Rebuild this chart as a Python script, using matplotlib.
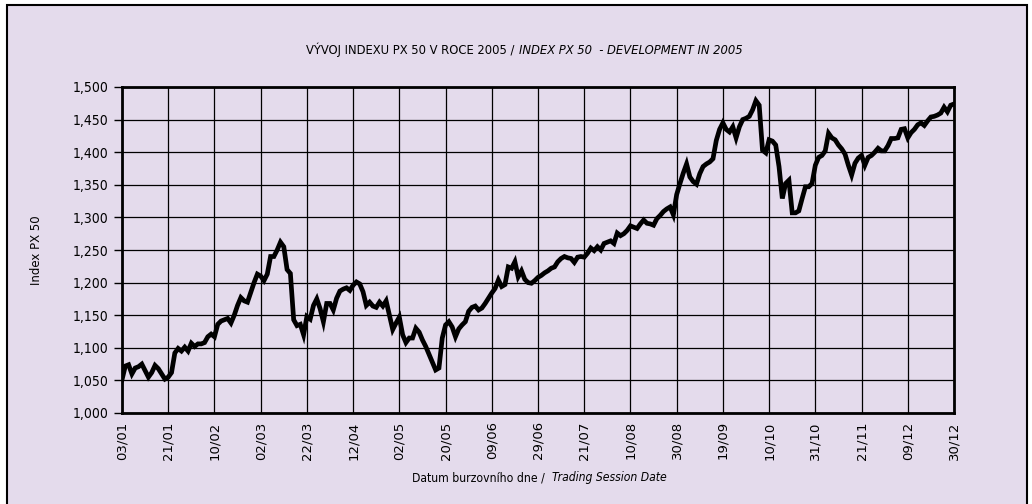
import matplotlib
matplotlib.use('Agg')
import matplotlib.pyplot as plt
from matplotlib.patches import Rectangle
from matplotlib.ticker import FuncFormatter

# date labels, one every 14 trading days
tick_labels = ['03/01', '21/01', '10/02', '02/03', '22/03', '12/04', '02/05',
               '20/05', '09/06', '29/06', '21/07', '10/08', '30/08', '19/09',
               '10/10', '31/10', '21/11', '09/12', '30/12']

# PX 50 closing values, one per trading session
px50 = [1051, 1072, 1074, 1060, 1069, 1071, 1075, 1065, 1055, 1062,
        1073, 1068, 1060, 1052, 1055, 1062, 1092, 1099, 1095, 1101,
        1095, 1107, 1102, 1106, 1106, 1108, 1117, 1121, 1117, 1136,
        1141, 1143, 1145, 1138, 1150, 1165, 1177, 1172, 1170, 1185,
        1200, 1213, 1210, 1203, 1213, 1240, 1240, 1250, 1262, 1255,
        1220, 1214, 1143, 1134, 1136, 1120, 1148, 1144, 1165, 1175,
        1160, 1140, 1168, 1168, 1158, 1176, 1187, 1190, 1192, 1188,
        1196, 1201, 1198, 1186, 1165, 1170, 1164, 1162, 1170, 1164,
        1172, 1150, 1128, 1138, 1147, 1120, 1108, 1115, 1115, 1130,
        1124, 1112, 1102, 1090, 1078, 1066, 1069, 1115, 1135, 1140,
        1132, 1117, 1129, 1135, 1140, 1156, 1162, 1164, 1158, 1161,
        1168, 1176, 1184, 1191, 1204, 1194, 1197, 1224, 1222, 1232,
        1209, 1218, 1205, 1200, 1199, 1203, 1208, 1211, 1215, 1218,
        1222, 1224, 1232, 1237, 1240, 1238, 1237, 1231, 1239, 1240,
        1239, 1245, 1253, 1249, 1255, 1250, 1260, 1262, 1264, 1260,
        1276, 1272, 1275, 1280, 1287, 1285, 1283, 1290, 1296, 1291,
        1290, 1288, 1298, 1303, 1309, 1313, 1316, 1304, 1335, 1352,
        1368, 1382, 1362, 1355, 1351, 1367, 1378, 1382, 1385, 1390,
        1418, 1435, 1445, 1435, 1431, 1439, 1422, 1439, 1450, 1452,
        1455, 1465, 1479, 1472, 1403, 1399, 1419, 1417, 1411, 1378,
        1329, 1352, 1357, 1307, 1307, 1310, 1329, 1347, 1347, 1352,
        1380, 1392, 1395, 1402, 1429, 1422, 1419, 1411, 1405, 1397,
        1380, 1365, 1383, 1391, 1395, 1380, 1392, 1395, 1400, 1406,
        1402, 1402, 1410, 1421, 1421, 1422, 1435, 1436, 1422, 1430,
        1435, 1442, 1445, 1441, 1448, 1454, 1455, 1457, 1460, 1469,
        1462, 1472, 1474]

bg = '#e4dbec'
cond = dict(family='DejaVu Sans', stretch='condensed')

fig = plt.figure(figsize=(10.32, 5.04), dpi=100)
fig.patch.set_facecolor('white')
fig.patches.append(Rectangle((7 / 1032, -0.02), (1027 - 7) / 1032, 1.02 - 5 / 504,
                             transform=fig.transFigure, facecolor=bg,
                             edgecolor='black', lw=1.5, zorder=-5))

ax = fig.add_axes([122 / 1032, 1 - 413 / 504, (954 - 122) / 1032, (413 - 87) / 504])
ax.set_facecolor(bg)

days = list(range(len(px50)))
ax.plot(days, px50, color='black', lw=3.4, solid_joinstyle='miter', zorder=3)

ax.set_xlim(0, len(px50) - 1)
ax.set_ylim(1000, 1500)
ax.set_yticks(range(1000, 1501, 50))
ax.yaxis.set_major_formatter(FuncFormatter(lambda v, p: f'{int(v):,}'))
ax.set_xticks(range(0, len(px50), 14))
ax.set_xticklabels(tick_labels, rotation=90, fontsize=9.5, family='DejaVu Sans')
for t in ax.get_yticklabels():
    t.set_fontproperties(matplotlib.font_manager.FontProperties(size=10, **cond))

ax.tick_params(axis='y', length=6, width=1, pad=4)
ax.tick_params(axis='x', length=0, pad=6)
ax.grid(True, color='black', lw=0.9)
ax.set_axisbelow(True)
for s in ax.spines.values():
    s.set_linewidth(2)

ax.set_ylabel('Index PX 50', fontsize=8.5, family='DejaVu Sans', labelpad=21)

# title, upright + italic halves
fig.text(514 / 1032, 1 - 50 / 504, 'VÝVOJ INDEXU PX 50 V ROCE 2005 /', ha='right',
         va='center', fontsize=9.3, **cond)
fig.text(519 / 1032, 1 - 50 / 504, 'INDEX PX 50  - DEVELOPMENT IN 2005', ha='left',
         va='center', fontsize=9.3, style='italic', **cond)

# x axis label, same way
fig.text(545 / 1032, 1 - 478 / 504, 'Datum burzovního dne /', ha='right',
         va='center', fontsize=8.7, **cond)
fig.text(552 / 1032, 1 - 478 / 504, 'Trading Session Date', ha='left',
         va='center', fontsize=8.7, style='italic', **cond)

fig.savefig('out.png', dpi=100, facecolor=fig.get_facecolor())
